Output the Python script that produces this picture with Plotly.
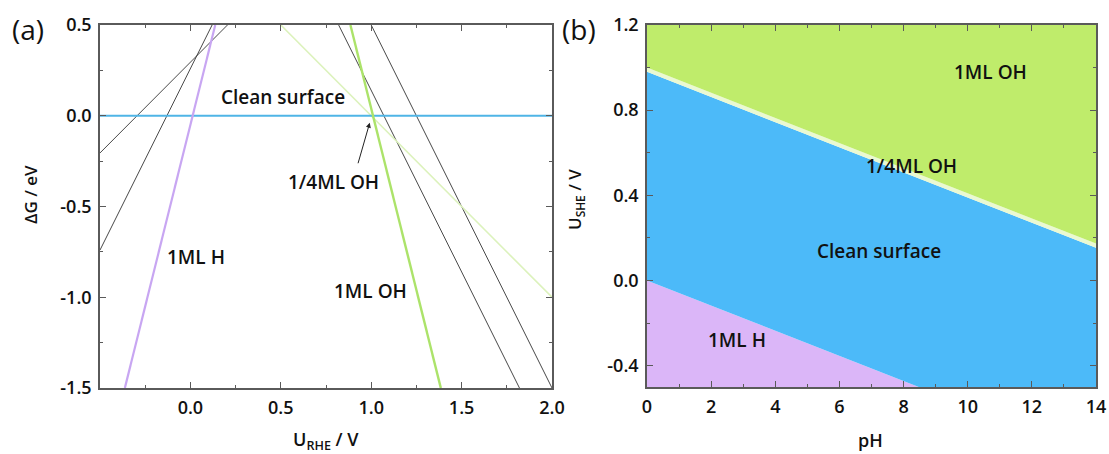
import plotly.graph_objects as go

# ---------------- Panel (a) data: free-energy lines (U_RHE, dG) ----------------
u_clean = [-0.5, 2.0]
dg_clean = [0.0, 0.0]

u_black_a = [-0.5, 0.12]
dg_black_a = [-0.74, 0.5]
u_black_b = [-0.5, 0.205]
dg_black_b = [-0.205, 0.5]
u_black_c = [0.82, 1.82]
dg_black_c = [0.5, -1.5]
u_black_d = [1.0, 2.0]
dg_black_d = [0.5, -1.5]

u_h_1ml = [-0.3625, 0.1375]
dg_h_1ml = [-1.5, 0.5]
u_oh_quarter = [0.5, 2.0]
dg_oh_quarter = [0.5, -1.0]
u_oh_1ml = [0.885, 1.385]
dg_oh_1ml = [0.5, -1.5]

a_xticks = [0.0, 0.5, 1.0, 1.5, 2.0]
a_xticklabels = ["0.0", "0.5", "1.0", "1.5", "2.0"]
a_yticks = [-1.5, -1.0, -0.5, 0.0, 0.5]
a_yticklabels = ["-1.5", "-1.0", "-0.5", "0.0", "0.5"]

# ---------------- Panel (b) data: Pourbaix boundaries (pH, U_SHE) ----------------
ph = [0, 14]
u_h_clean = [0.0, -0.826]
u_clean_quarter = [0.98, 0.154]
u_quarter_full = [1.0, 0.174]
ph_range = [0, 14]
ushe_range = [-0.5, 1.2]

b_xticks = [0, 2, 4, 6, 8, 10, 12, 14]
b_yticks = [-0.4, 0.0, 0.4, 0.8, 1.2]
b_yticklabels = ["-0.4", "0.0", "0.4", "0.8", "1.2"]

FONT = "Open Sans"
AXC = "#5a5a5a"

fig = go.Figure()

def line(xs, ys, color, width, xa="x", ya="y"):
    fig.add_trace(go.Scatter(x=xs, y=ys, mode="lines", line=dict(color=color, width=width),
                             xaxis=xa, yaxis=ya, showlegend=False, hoverinfo="skip"))

# panel (a)
for xs, ys in [(u_black_a, dg_black_a), (u_black_b, dg_black_b),
               (u_black_c, dg_black_c), (u_black_d, dg_black_d)]:
    line(xs, ys, "#333333", 0.9)
line(u_oh_quarter, dg_oh_quarter, "#dcf2bc", 1.6)
line(u_clean, dg_clean, "#4fb5e6", 1.8)
line(u_oh_1ml, dg_oh_1ml, "#ace36a", 2.4)
line(u_h_1ml, dg_h_1ml, "#c8a6f2", 2.2)

# panel (b) filled regions
x0, x1 = ph_range
ylo, yhi = ushe_range
def poly(xs, ys, color):
    fig.add_trace(go.Scatter(x=xs, y=ys, mode="lines", fill="toself", fillcolor=color,
                             line=dict(width=0, color=color), xaxis="x2", yaxis="y2",
                             showlegend=False, hoverinfo="skip"))

poly([x0, x0, x1, x1], [ylo, u_h_clean[0], u_h_clean[1], ylo], "#dbb6f8")
poly([x0, x0, x1, x1], [u_h_clean[0], u_clean_quarter[0], u_clean_quarter[1], u_h_clean[1]], "#4cbaf9")
poly([x0, x0, x1, x1], [u_clean_quarter[0], u_quarter_full[0], u_quarter_full[1], u_clean_quarter[1]], "#eaf9d2")
poly([x0, x0, x1, x1], [u_quarter_full[0], yhi, yhi, u_quarter_full[1]], "#bfec6b")

tickfont = dict(family=FONT, size=18, color="#111111", weight=600)

def axis_common():
    return dict(showline=True, linecolor=AXC, linewidth=1.5, mirror="ticks",
                ticks="inside", ticklen=6, tickwidth=1.2, tickcolor=AXC,
                showgrid=False, zeroline=False, tickfont=tickfont, ticklabelstandoff=3,
                automargin=False, layer="above traces")

fig.update_layout(
    template="none",
    width=1109, height=454, autosize=False,
    margin=dict(l=0, r=0, t=0, b=0, pad=0),
    paper_bgcolor="white", plot_bgcolor="white",
    xaxis=dict(domain=[100/1109, 552/1109], range=[-0.5, 2.0],
               tickvals=a_xticks, ticktext=a_xticklabels,
               minor=dict(ticks="inside", ticklen=3, dtick=0.25, tick0=0, tickcolor=AXC),
               anchor="y", **axis_common()),
    yaxis=dict(domain=[1-388/454, 1-25/454], range=[-1.5, 0.5],
               tickvals=a_yticks, ticktext=a_yticklabels,
               minor=dict(ticks="inside", ticklen=3, dtick=0.25, tick0=0, tickcolor=AXC),
               anchor="x", **axis_common()),
    xaxis2=dict(domain=[647/1109, 1096/1109], range=ph_range,
                tickvals=b_xticks,
                minor=dict(ticks="inside", ticklen=3, dtick=1, tick0=0, tickcolor=AXC),
                anchor="y2", **axis_common()),
    yaxis2=dict(domain=[1-387/454, 1-25/454], range=ushe_range,
                tickvals=b_yticks, ticktext=b_yticklabels,
                minor=dict(ticks="inside", ticklen=3, dtick=0.2, tick0=0, tickcolor=AXC),
                anchor="x2", **axis_common()),
)

ann = []
def txt(x, y, s, xref="paper", yref="paper", size=19, angle=0, weight=600):
    ann.append(dict(x=x, y=y, xref=xref, yref=yref, text=s, showarrow=False,
                    font=dict(family=FONT, size=size, color="#111111", weight=weight),
                    textangle=angle, xanchor="center", yanchor="middle"))

# panel labels
txt(28/1109, 1-29/454, "(a)", size=28, weight=400)
txt(579/1109, 1-29/454, "(b)", size=28, weight=400)
# panel (a) texts (data coords)
txt(0.51, 0.103, "Clean surface", "x", "y")
txt(0.03, -0.777, "1ML H", "x", "y")
txt(0.996, -0.966, "1ML OH", "x", "y")
txt(0.79, -0.365, "1/4ML OH", "x", "y")
ann.append(dict(x=0.992, y=-0.038, ax=0.925, ay=-0.27, xref="x", yref="y",
                axref="x", ayref="y", showarrow=True, arrowhead=2, arrowsize=1,
                arrowwidth=1, arrowcolor="#222222", text=""))
# panel (b) texts (data coords)
txt(10.7, 0.98, "1ML OH", "x2", "y2")
txt(8.26, 0.537, "1/4ML OH", "x2", "y2")
txt(7.24, 0.137, "Clean surface", "x2", "y2")
txt(2.81, -0.28, "1ML H", "x2", "y2")
# axis titles
txt(30/1109, 1-195/454, "ΔG / eV", size=17, angle=-90)
txt(326/1109, 1-440/454, "U<sub>RHE</sub> / V", size=18)
txt(575/1109, 1-200/454, "U<sub>SHE</sub> / V", size=17, angle=-90)
txt(870/1109, 1-440/454, "pH", size=18)

fig.update_layout(annotations=ann)
fig.write_html("out.html", config={"displayModeBar": False},
               post_script="document.body.style.margin='0';document.body.style.padding='0';")
